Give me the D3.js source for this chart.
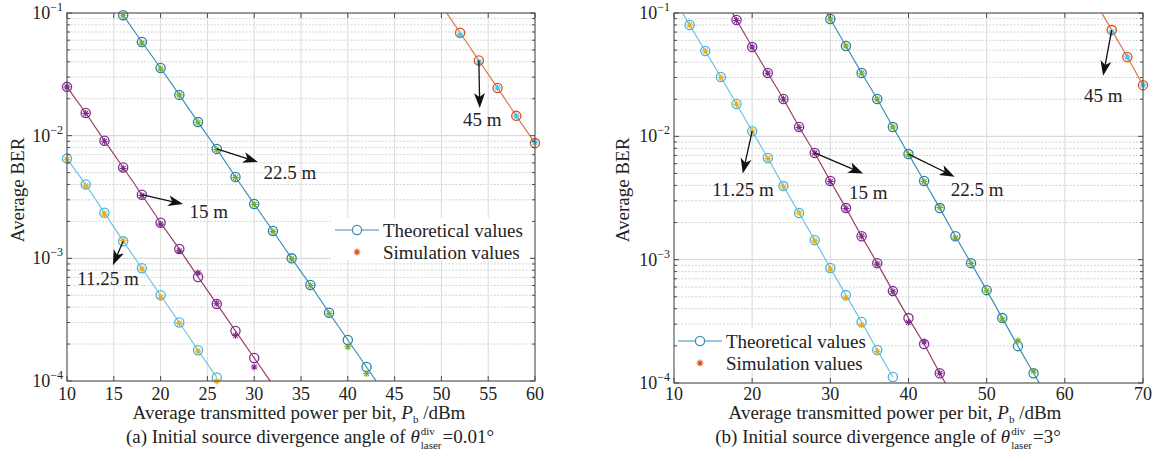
<!DOCTYPE html>
<html>
<head>
<meta charset="utf-8">
<script src="https://cdn.jsdelivr.net/npm/d3@7"></script>
<style>
  body { margin: 0; background: #fff; }
</style>
</head>
<body>
<svg id="chart" width="1158" height="461"></svg>
<script>
// ---------- panel (a): divergence 0.01 deg ----------
var aX1125 = [10, 12, 14, 16, 18, 20, 22, 24, 26];
var aTh1125 = [6.5e-3, 4.0e-3, 2.35e-3, 1.38e-3, 8.3e-4, 5.0e-4, 3.0e-4, 1.78e-4, 1.07e-4];
var aSim1125 = [6.4e-3, 3.9e-3, 2.3e-3, 1.4e-3, 8.2e-4, 4.8e-4, 2.95e-4, 1.75e-4, 1.0e-4];

var aX15 = [10, 12, 14, 16, 18, 20, 22, 24, 26, 28, 30];
var aTh15 = [2.5e-2, 1.53e-2, 9.1e-3, 5.5e-3, 3.3e-3, 1.95e-3, 1.19e-3, 7.05e-4, 4.25e-4, 2.56e-4, 1.54e-4];
var aSim15 = [2.5e-2, 1.52e-2, 9.0e-3, 5.4e-3, 3.25e-3, 1.9e-3, 1.15e-3, 7.6e-4, 4.3e-4, 2.35e-4, 1.3e-4];
var aTail15 = [32, 9.3e-5];

var aX225 = [16, 18, 20, 22, 24, 26, 28, 30, 32, 34, 36, 38, 40, 42];
var aTh225 = [9.6e-2, 5.8e-2, 3.56e-2, 2.15e-2, 1.29e-2, 7.8e-3, 4.6e-3, 2.77e-3, 1.67e-3, 1.0e-3, 6.07e-4, 3.6e-4, 2.16e-4, 1.3e-4];
var aSim225 = [9.5e-2, 5.7e-2, 3.5e-2, 2.15e-2, 1.28e-2, 7.7e-3, 4.55e-3, 2.75e-3, 1.65e-3, 9.9e-4, 6.0e-4, 3.55e-4, 1.9e-4, 1.15e-4];
var aTail225 = [44, 7.8e-5];

var aX45 = [52, 54, 56, 58, 60];
var aTh45 = [6.9e-2, 4.1e-2, 2.45e-2, 1.45e-2, 8.7e-3];
var aSim45 = [6.6e-2, 4.0e-2, 2.45e-2, 1.45e-2, 8.8e-3];
var aHead45 = [50, 0.116];

// ---------- panel (b): divergence 3 deg ----------
var bX1125 = [12, 14, 16, 18, 20, 22, 24, 26, 28, 30, 32, 34, 36, 38];
var bTh1125 = [8.0e-2, 4.92e-2, 3.03e-2, 1.83e-2, 1.10e-2, 6.67e-3, 3.95e-3, 2.39e-3, 1.44e-3, 8.55e-4, 5.16e-4, 3.12e-4, 1.85e-4, 1.12e-4];
var bSim1125 = [8.0e-2, 4.9e-2, 3.0e-2, 1.82e-2, 1.1e-2, 6.6e-3, 3.9e-3, 2.4e-3, 1.42e-3, 8.4e-4, 4.9e-4, 2.95e-4, 1.8e-4, 9.0e-5];
var bHead1125 = [10, 0.13];

var bX15 = [18, 20, 22, 24, 26, 28, 30, 32, 34, 36, 38, 40, 42, 44];
var bTh15 = [8.77e-2, 5.3e-2, 3.26e-2, 2.01e-2, 1.19e-2, 7.33e-3, 4.34e-3, 2.62e-3, 1.55e-3, 9.37e-4, 5.56e-4, 3.36e-4, 2.07e-4, 1.2e-4];
var bSim15 = [8.7e-2, 5.3e-2, 3.25e-2, 2.0e-2, 1.18e-2, 7.3e-3, 4.3e-3, 2.6e-3, 1.55e-3, 9.2e-4, 5.5e-4, 3.1e-4, 2.15e-4, 1.2e-4];
var bHead15 = [16, 0.146], bTail15 = [46, 7.2e-5];

var bX225 = [30, 32, 34, 36, 38, 40, 42, 44, 46, 48, 50, 52, 54, 56];
var bTh225 = [8.94e-2, 5.4e-2, 3.26e-2, 2.01e-2, 1.19e-2, 7.18e-3, 4.34e-3, 2.62e-3, 1.55e-3, 9.37e-4, 5.66e-4, 3.36e-4, 1.99e-4, 1.2e-4];
var bSim225 = [8.9e-2, 5.4e-2, 3.25e-2, 2.0e-2, 1.19e-2, 7.1e-3, 4.3e-3, 2.65e-3, 1.5e-3, 9.3e-4, 5.6e-4, 3.3e-4, 2.2e-4, 1.25e-4];
var bHead225 = [28, 0.146], bTail225 = [58, 7.2e-5];

var bX45 = [66, 68, 70];
var bTh45 = [7.27e-2, 4.4e-2, 2.6e-2];
var bSim45 = [7.0e-2, 4.4e-2, 2.6e-2];
var bHead45 = [64, 0.12];

// axis ticks
var aXTicks = [10, 15, 20, 25, 30, 35, 40, 45, 50, 55, 60];
var bXTicks = [10, 20, 30, 40, 50, 60, 70];
var yDecades = [1e-4, 1e-3, 1e-2, 1e-1];
var yExp = ['\u22124', '\u22123', '\u22122', '\u22121'];

// annotations: [label, from(x,BER), arrow tip(x,BER), label pos(x,BER)]
var aNotes = [
  ['22.5 m', [26, 7.8e-3], [30.4, 6.1e-3], [31.0, 5.0e-3]],
  ['15 m', [18, 3.3e-3], [22.4, 2.77e-3], [23.1, 2.4e-3]],
  ['11.25 m', [16, 1.38e-3], [14.9, 8.8e-4], [11.1, 6.9e-4]],
  ['45 m', [54, 4.1e-2], [54.1, 1.68e-2], [52.3, 1.35e-2]]
];
var bNotes = [
  ['11.25 m', [20, 1.10e-2], [18.8, 5.0e-3], [14.9, 3.7e-3]],
  ['15 m', [28, 7.33e-3], [34.2, 5.0e-3], [32.4, 3.5e-3]],
  ['22.5 m', [40, 7.18e-3], [45.9, 4.7e-3], [45.4, 3.7e-3]],
  ['45 m', [66, 7.27e-2], [64.9, 3.1e-2], [62.45, 2.16e-2]]
];

// colours per distance
var col = {
  d1125: {line: '#6fc3dd', circ: '#45b6dd', star: '#e8ad24'},
  d15:   {line: '#9c3d62', circ: '#7e2f8e', star: '#7e2f8e'},
  d225:  {line: '#3d92b6', circ: '#2a7fa6', star: '#77ac30'},
  d45:   {line: '#d9784f', circ: '#d95319', star: '#4dbeee'}
};

var FONT = "'Liberation Serif'";

function mkSeries(xs, th, sim, c, head, tail){
  var pts = xs.map(function(x, i){ return [x, th[i]]; });
  var line = pts.slice();
  if(head) line.unshift(head);
  if(tail) line.push(tail);
  return {xs: xs, th: th, sim: sim, c: c, line: line};
}

var panels = [
  {
    id: 'a', left: 67, right: 535, top: 13, bottom: 381,
    xDomain: [10, 60], xTicks: aXTicks,
    series: [
      mkSeries(aX1125, aTh1125, aSim1125, col.d1125),
      mkSeries(aX15, aTh15, aSim15, col.d15, null, aTail15),
      mkSeries(aX225, aTh225, aSim225, col.d225, null, aTail225),
      mkSeries(aX45, aTh45, aSim45, col.d45, aHead45)
    ],
    notes: aNotes,
    legend: {x: 335, y: 230},
    yLabelX: 17, xLabelCx: 299, captionCx: 310,
    capPrefix: '(a)', capValue: '=0.01\u00b0'
  },
  {
    id: 'b', left: 674, right: 1143, top: 13, bottom: 383,
    xDomain: [10, 70], xTicks: bXTicks,
    series: [
      mkSeries(bX1125, bTh1125, bSim1125, col.d1125, bHead1125),
      mkSeries(bX15, bTh15, bSim15, col.d15, bHead15, bTail15),
      mkSeries(bX225, bTh225, bSim225, col.d225, bHead225, bTail225),
      mkSeries(bX45, bTh45, bSim45, col.d45, bHead45)
    ],
    notes: bNotes,
    legend: {x: 678, y: 341},
    yLabelX: 622, xLabelCx: 895, captionCx: 888,
    capPrefix: '(b)', capValue: '=3\u00b0'
  }
];

var svg = d3.select('#chart');
svg.append('rect').attr('width', 1158).attr('height', 461).attr('fill', '#fff');

function txt(sel, size){
  return sel.append('text')
    .style('font-family', FONT)
    .style('font-size', size + 'px')
    .style('fill', '#222');
}

function starPath(r){
  var d = r * 0.72;
  return 'M' + (-r) + ',0H' + r + 'M0,' + (-r) + 'V' + r +
         'M' + (-d) + ',' + (-d) + 'L' + d + ',' + d +
         'M' + (-d) + ',' + d + 'L' + d + ',' + (-d);
}

function drawPanel(p){
  var g = svg.append('g');
  var x = d3.scaleLinear().domain(p.xDomain).range([p.left, p.right]);
  var y = d3.scaleLog().domain([1e-4, 1e-1]).range([p.bottom, p.top]);

  g.append('clipPath').attr('id', 'clip-' + p.id)
   .append('rect')
   .attr('x', p.left).attr('y', p.top)
   .attr('width', p.right - p.left).attr('height', p.bottom - p.top);

  // minor grid (2..9 per decade)
  var minor = [];
  for(var e = -4; e < -1; e ++)
    for(var m = 2; m <= 9; m ++)
      minor.push(m * Math.pow(10, e));

  g.selectAll('.mgrid').data(minor).enter().append('line')
   .attr('x1', p.left).attr('x2', p.right)
   .attr('y1', function(d){ return y(d); })
   .attr('y2', function(d){ return y(d); })
   .style('stroke', '#c8c8c8')
   .style('stroke-dasharray', '2 1.5')
   .style('stroke-width', 0.8);

  g.selectAll('.ygrid').data(yDecades).enter().append('line')
   .attr('x1', p.left).attr('x2', p.right)
   .attr('y1', function(d){ return y(d); })
   .attr('y2', function(d){ return y(d); })
   .style('stroke', '#d2d2d2');

  g.selectAll('.xgrid').data(p.xTicks).enter().append('line')
   .attr('x1', function(d){ return x(d); })
   .attr('x2', function(d){ return x(d); })
   .attr('y1', p.top).attr('y2', p.bottom)
   .style('stroke', '#dadada');

  // legend background hides grid
  var lg = p.legend;
  g.append('rect')
   .attr('x', lg.x - 4).attr('y', lg.y - 12)
   .attr('width', 200).attr('height', 42)
   .attr('fill', '#fff');

  // theory lines
  var lineGen = d3.line()
    .x(function(d){ return x(d[0]); })
    .y(function(d){ return y(d[1]); });

  var plot = g.append('g').attr('clip-path', 'url(#clip-' + p.id + ')');
  p.series.forEach(function(s){
    plot.append('path')
      .datum(s.line)
      .attr('d', lineGen)
      .style('fill', 'none')
      .style('stroke', s.c.line)
      .style('stroke-width', 1.2);
  });

  // markers
  p.series.forEach(function(s){
    var pts = s.xs.map(function(xv, i){ return {x: xv, th: s.th[i], sim: s.sim[i]}; });
    g.selectAll(null).data(pts.filter(function(d){ return d.th >= 1e-4 && d.th <= 0.1; }))
     .enter().append('circle')
     .attr('cx', function(d){ return x(d.x); })
     .attr('cy', function(d){ return y(d.th); })
     .attr('r', 4.6)
     .style('fill', 'none')
     .style('stroke', s.c.circ)
     .style('stroke-width', 1.3);
    g.selectAll(null).data(pts.filter(function(d){ return d.sim >= 1e-4 && d.sim <= 0.1; }))
     .enter().append('path')
     .attr('transform', function(d){ return 'translate(' + x(d.x) + ',' + y(d.sim) + ')'; })
     .attr('d', starPath(3.4))
     .style('fill', 'none')
     .style('stroke', s.c.star)
     .style('stroke-width', 1.1);
  });

  // axes box
  g.append('rect')
   .attr('x', p.left).attr('y', p.top)
   .attr('width', p.right - p.left).attr('height', p.bottom - p.top)
   .style('fill', 'none')
   .style('stroke', '#4a4a4a')
   .style('stroke-width', 1);

  // ticks inside, all four sides
  p.xTicks.forEach(function(t){
    g.append('line').attr('x1', x(t)).attr('x2', x(t))
     .attr('y1', p.bottom).attr('y2', p.bottom - 5).style('stroke', '#4a4a4a');
    g.append('line').attr('x1', x(t)).attr('x2', x(t))
     .attr('y1', p.top).attr('y2', p.top + 5).style('stroke', '#4a4a4a');
  });
  yDecades.forEach(function(t){
    g.append('line').attr('x1', p.left).attr('x2', p.left + 5)
     .attr('y1', y(t)).attr('y2', y(t)).style('stroke', '#4a4a4a');
    g.append('line').attr('x1', p.right).attr('x2', p.right - 5)
     .attr('y1', y(t)).attr('y2', y(t)).style('stroke', '#4a4a4a');
  });
  minor.forEach(function(t){
    g.append('line').attr('x1', p.left).attr('x2', p.left + 3)
     .attr('y1', y(t)).attr('y2', y(t)).style('stroke', '#4a4a4a');
    g.append('line').attr('x1', p.right).attr('x2', p.right - 3)
     .attr('y1', y(t)).attr('y2', y(t)).style('stroke', '#4a4a4a');
  });

  // tick labels
  p.xTicks.forEach(function(t){
    txt(g, 18)
     .attr('x', x(t)).attr('y', 400)
     .attr('text-anchor', 'middle')
     .text(t);
  });

  yDecades.forEach(function(t, i){
    var tx = txt(g, 18)
      .attr('x', p.left - 4)
      .attr('y', y(t) + 6)
      .attr('text-anchor', 'end');
    tx.append('tspan').text('10');
    tx.append('tspan').attr('dy', -8).style('font-size', '12px').text(yExp[i]);
  });

  // axis labels
  txt(g, 19)
   .attr('transform', 'translate(' + p.yLabelX + ',190) rotate(-90)')
   .attr('dy', '0.35em')
   .attr('text-anchor', 'middle')
   .text('Average BER');

  var xl = txt(g, 19)
    .attr('x', p.xLabelCx).attr('y', 419)
    .attr('text-anchor', 'middle');
  xl.append('tspan').text('Average transmitted power per bit, ');
  xl.append('tspan').style('font-style', 'italic').text('P');
  xl.append('tspan').attr('dy', 4).style('font-size', '11px').text('b');
  xl.append('tspan').attr('dy', -4).text(' /dBm');

  // caption with stacked super/subscript
  var cg = g.append('g');
  var c1 = txt(cg, 19).attr('x', 0).attr('y', 443);
  c1.append('tspan').text(p.capPrefix + ' Initial source divergence angle of ');
  c1.append('tspan').style('font-style', 'italic').text('\u03b8');
  var w1 = c1.node().getComputedTextLength();
  var sup = txt(cg, 11).attr('x', w1 + 1).attr('y', 435).text('div');
  var sub = txt(cg, 11).attr('x', w1 + 1).attr('y', 449).text('laser');
  var ws = Math.max(sup.node().getComputedTextLength(), sub.node().getComputedTextLength());
  var c2 = txt(cg, 19).attr('x', w1 + ws + 2).attr('y', 443).text(p.capValue);
  var total = w1 + ws + 2 + c2.node().getComputedTextLength();
  cg.attr('transform', 'translate(' + (p.captionCx - total / 2) + ',0)');

  // annotations
  p.notes.forEach(function(n){
    var sx = x(n[1][0]), sy = y(n[1][1]);
    var ex = x(n[2][0]), ey = y(n[2][1]);
    var ang = Math.atan2(ey - sy, ex - sx);
    var back = 8;
    g.append('line')
     .attr('x1', sx).attr('y1', sy)
     .attr('x2', ex - back * Math.cos(ang)).attr('y2', ey - back * Math.sin(ang))
     .style('stroke', '#111')
     .style('stroke-width', 1.3);
    g.append('path')
     .attr('d', 'M0,0L-15,-5.5L-11,0L-15,5.5Z')
     .attr('transform', 'translate(' + ex + ',' + ey + ') rotate(' + (ang * 180 / Math.PI) + ')')
     .style('fill', '#111');
    txt(g, 19)
     .attr('x', x(n[3][0])).attr('y', y(n[3][1]))
     .attr('dy', '0.35em')
     .text(n[0]);
  });

  // legend
  g.append('line')
   .attr('x1', lg.x).attr('x2', lg.x + 44)
   .attr('y1', lg.y).attr('y2', lg.y)
   .style('stroke', '#3d8fb5')
   .style('stroke-width', 1);
  g.append('circle')
   .attr('cx', lg.x + 22).attr('cy', lg.y).attr('r', 4.6)
   .style('fill', '#fff')
   .style('stroke', '#3d8fb5')
   .style('stroke-width', 1.3);
  g.append('path')
   .attr('transform', 'translate(' + (lg.x + 22) + ',' + (lg.y + 22) + ')')
   .attr('d', starPath(3.4))
   .style('fill', 'none')
   .style('stroke', '#d95319')
   .style('stroke-width', 1.1);
  txt(g, 19)
   .attr('x', lg.x + 48).attr('y', lg.y).attr('dy', '0.35em')
   .text('Theoretical values');
  txt(g, 19)
   .attr('x', lg.x + 48).attr('y', lg.y + 22).attr('dy', '0.35em')
   .text('Simulation values');
}

panels.forEach(drawPanel);
</script>
</body>
</html>
